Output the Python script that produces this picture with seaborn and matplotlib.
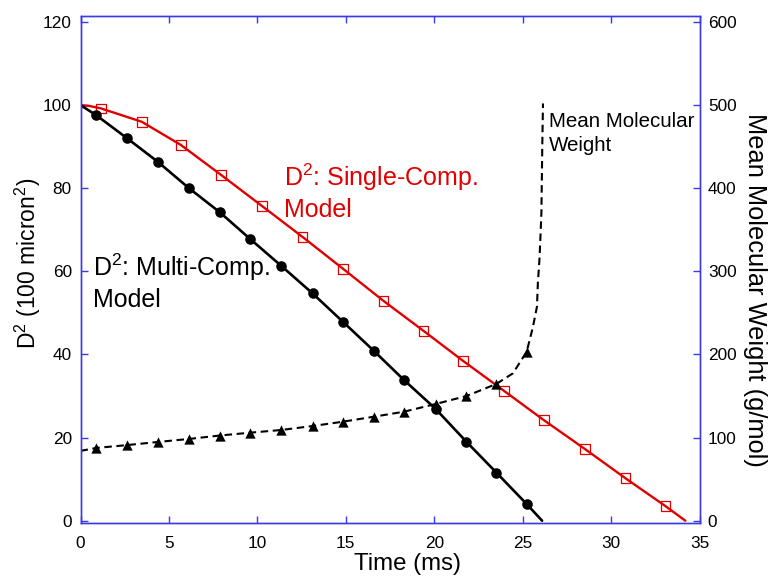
import matplotlib
matplotlib.use("Agg")
import matplotlib.pyplot as plt
import seaborn as sns

sns.set_theme(style="white")
plt.rcParams['font.family'] = ['Liberation Sans', 'DejaVu Sans']
plt.rcParams['mathtext.fontset'] = 'custom'
plt.rcParams['mathtext.rm'] = 'Liberation Sans'
plt.rcParams['mathtext.it'] = 'Liberation Sans:italic'
plt.rcParams['mathtext.bf'] = 'Liberation Sans:bold'
plt.rcParams['mathtext.default'] = 'regular'

# ---------------- data ----------------
# Multi-component model, D^2 (100 micron^2) vs time (ms)
multi_t = [0.88, 2.64, 4.36, 6.11, 7.88, 9.59, 11.33, 13.12, 14.83, 16.58,
           18.28, 20.08, 21.82, 23.51, 25.23]
multi_d2 = [97.6, 92.0, 86.4, 80.1, 74.2, 67.8, 61.4, 54.7, 47.9, 40.9,
            33.9, 26.9, 19.0, 11.6, 4.0]
multi_curve_t = [0.0] + multi_t + [26.1]
multi_curve_d2 = [100.0] + multi_d2 + [0.0]

# Single-component model
single_t = [1.16, 3.46, 5.68, 7.95, 10.24, 12.55, 14.85, 17.13, 19.39, 21.65,
            23.93, 26.2, 28.54, 30.82, 33.08]
single_d2 = [99.2, 96.0, 90.4, 83.2, 75.8, 68.3, 60.6, 52.9, 45.7, 38.4,
             31.3, 24.2, 17.2, 10.2, 3.5]
single_curve_t = [0.0, 0.5] + single_t + [34.2]
single_curve_d2 = [100.0, 99.8] + single_d2 + [0.0]

# Mean molecular weight (g/mol), right axis
mw_t = multi_t
mw_val = [87.5, 91.0, 94.7, 98.3, 102.5, 105.9, 109.1, 113.9, 119.1, 125.1,
          131.1, 140.4, 150.0, 164.5, 203.3]
mw_curve_t = ([0.0] + mw_t[:14]
              + [24.45, 25.23, 25.58, 25.81, 25.86, 25.96, 26.06, 26.11, 26.15])
mw_curve_val = ([84.0] + mw_val[:14]
                + [177.3, 203.3, 233.0, 257.5, 285.6, 317.6, 369.8, 450.0, 502.0])

x_ticks = [0, 5, 10, 15, 20, 25, 30, 35]
left_ticks = [0, 20, 40, 60, 80, 100, 120]
right_ticks = [0, 100, 200, 300, 400, 500, 600]

# ---------------- styling ----------------
RED = '#e00000'
BLUE = '#3a3ae6'
W, H = 769, 576

fig = plt.figure(figsize=(W / 100, H / 100), dpi=100)
ax = fig.add_axes([80.5 / W, 1 - 523 / H, 619 / W, 507 / H])
ax2 = ax.twinx()

# left axis curves
sns.lineplot(x=single_curve_t, y=single_curve_d2, sort=False, estimator=None,
             ax=ax, color=RED, linewidth=1.7)
sns.scatterplot(x=single_t, y=single_d2, ax=ax, marker='s', s=50,
                facecolors='none', edgecolors=RED, linewidths=0.9, zorder=3)
sns.lineplot(x=multi_curve_t, y=multi_curve_d2, sort=False, estimator=None,
             ax=ax, color='black', linewidth=1.9)
sns.scatterplot(x=multi_t, y=multi_d2, ax=ax, marker='o', s=58,
                color='black', edgecolor='black', linewidth=0, zorder=3)

# right axis curve
sns.lineplot(x=mw_curve_t, y=mw_curve_val, sort=False, estimator=None,
             ax=ax2, color='black', linewidth=1.5, dashes=False)
ax2.lines[-1].set_dashes((3.6, 2.2))
sns.scatterplot(x=mw_t, y=mw_val, ax=ax2, marker='^', s=55,
                color='black', edgecolor='black', linewidth=0, zorder=3)

# limits and ticks
ax.set_xlim(0, 35)
ax.set_ylim(-0.55, 121.44)
ax2.set_ylim(-2.75, 607.2)
ax.set_xticks(x_ticks)
ax.set_yticks(left_ticks)
ax2.set_yticks(right_ticks)
ax.set_xticklabels([str(v) for v in x_ticks])
ax.set_yticklabels([str(v) for v in left_ticks])
ax2.set_yticklabels([str(v) for v in right_ticks])

for a in (ax, ax2):
    for sp in a.spines.values():
        sp.set_color(BLUE)
        sp.set_linewidth(1.0)
        sp.set_visible(True)
    a.grid(False)
    a.set_facecolor('none')

ax.tick_params(axis='both', direction='in', length=5, width=1, color=BLUE,
               labelsize=12.4, labelcolor='black')
ax.tick_params(axis='x', top=True, bottom=True, pad=9.5)
ax.tick_params(axis='y', left=True, right=False, pad=6.3)
ax2.tick_params(axis='y', direction='in', length=5, width=1, color=BLUE,
                labelsize=12.4, labelcolor='black', pad=6, left=False, right=True)

# axis labels
ax.set_xlabel('Time (ms)', fontsize=17.3, color='black')
ax.xaxis.set_label_coords((407.5 - 80.5) / 619, (523 - 553) / 507)
ax.set_ylabel('D$^{2}$ (100 micron$^{2}$)', fontsize=16.5, color='black')
ax.yaxis.set_label_coords((43 - 80.5) / 619, (523 - 263) / 507)
ax2.set_ylabel('Mean Molecular Weight (g/mol)', fontsize=18.3, color='black',
               rotation=-90, va='bottom')
ax2.yaxis.set_label_coords((743 - 80.5) / 619, (523 - 290) / 507)

# annotations (y = baseline of the last line)
ax.text(11.5, 73.15, 'D$^{2}$: Single-Comp.\nModel', color=RED, fontsize=18,
        ha='left', va='baseline', linespacing=1.25)
ax.text(0.72, 51.5, 'D$^{2}$: Multi-Comp.\nModel', color='black', fontsize=18,
        ha='left', va='baseline', linespacing=1.25)
ax.text(26.47, 88.96, 'Mean Molecular\nWeight', color='black', fontsize=14.8,
        ha='left', va='baseline', linespacing=1.32)

fig.savefig('out.png', dpi=100)
